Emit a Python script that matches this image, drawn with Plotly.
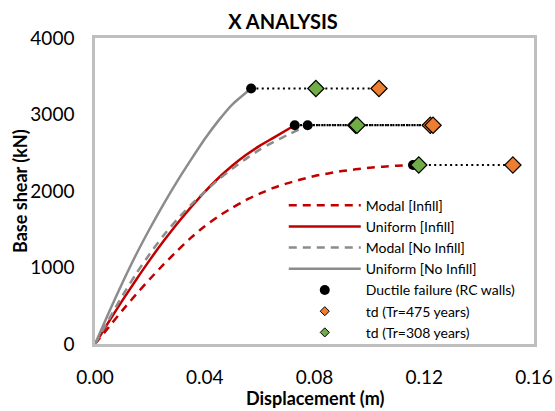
import plotly.graph_objects as go

# ---- data ----
modal_infill_d = [0, 0.005, 0.01, 0.015, 0.02, 0.025, 0.03, 0.035, 0.04, 0.045, 0.05, 0.055, 0.06,
                  0.065, 0.07, 0.075, 0.08, 0.085, 0.09, 0.095, 0.10, 0.105, 0.11, 0.1159]
modal_infill_v = [0, 220, 440, 650, 850, 1040, 1220, 1390, 1540, 1670, 1780, 1880, 1965,
                  2040, 2100, 2150, 2195, 2230, 2260, 2283, 2303, 2318, 2330, 2340]

uniform_infill_d = [0, 0.005, 0.01, 0.015, 0.02, 0.025, 0.03, 0.035, 0.04, 0.045, 0.05, 0.055,
                    0.06, 0.065, 0.0728]
uniform_infill_v = [0, 290, 570, 840, 1100, 1345, 1575, 1790, 1990, 2170, 2330, 2470,
                    2590, 2695, 2860]

modal_noinfill_d = [0, 0.005, 0.01, 0.015, 0.02, 0.025, 0.03, 0.035, 0.04, 0.045, 0.05, 0.055,
                    0.06, 0.065, 0.07, 0.0775]
modal_noinfill_v = [0, 320, 630, 920, 1180, 1420, 1630, 1820, 1990, 2150, 2290, 2420,
                    2540, 2640, 2730, 2860]

uniform_noinfill_d = [0, 0.005, 0.01, 0.015, 0.02, 0.025, 0.03, 0.035, 0.04, 0.045, 0.05, 0.0569]
uniform_noinfill_v = [0, 410, 800, 1170, 1510, 1830, 2130, 2410, 2680, 2920, 3130, 3340]

# ductile failure, td (Tr=308), td (Tr=475) per curve
keys = ["mi", "ui", "mn", "un"]
fail_d = {"mi": 0.1159, "ui": 0.0728, "mn": 0.0775, "un": 0.0569}
fail_v = {"mi": 2340, "ui": 2860, "mn": 2860, "un": 3340}
td308_d = {"mi": 0.118, "ui": 0.0950, "mn": 0.0955, "un": 0.0805}
td475_d = {"mi": 0.1523, "ui": 0.1222, "mn": 0.1232, "un": 0.1035}

x_ticks = [0.00, 0.04, 0.08, 0.12, 0.16]
y_ticks = [0, 1000, 2000, 3000, 4000]

RED = "#c00000"
GRAY = "#8c8c8c"
ORANGE = "#ed7d31"
GREEN = "#70ad47"
FONT = "Lato"

fig = go.Figure()

curves = [
    ("Modal [Infill]", modal_infill_d, modal_infill_v, RED, "dash"),
    ("Uniform [Infill]", uniform_infill_d, uniform_infill_v, RED, "solid"),
    ("Modal [No Infill]", modal_noinfill_d, modal_noinfill_v, GRAY, "dash"),
    ("Uniform [No Infill]", uniform_noinfill_d, uniform_noinfill_v, GRAY, "solid"),
]
for name, d, v, c, dash in curves:
    fig.add_trace(go.Scatter(x=d, y=v, mode="lines", name=name,
                             line=dict(color=c, width=2.5,
                                       dash=("8px,6px" if dash == "dash" else "solid"),
                                       shape="spline", smoothing=0.6),
                             showlegend=True))

# dotted connectors
for k in keys:
    fig.add_trace(go.Scatter(x=[fail_d[k], td308_d[k], td475_d[k]], y=[fail_v[k]] * 3,
                             mode="lines", line=dict(color="black", width=2.2, dash="2px,3.3px"),
                             showlegend=False, hoverinfo="skip"))

fig.add_trace(go.Scatter(x=[fail_d[k] for k in keys], y=[fail_v[k] for k in keys], mode="markers",
                         marker=dict(color="black", size=10), showlegend=False))
fig.add_trace(go.Scatter(x=[td475_d[k] for k in keys], y=[fail_v[k] for k in keys], mode="markers",
                         marker=dict(color=ORANGE, size=12.5, symbol="diamond",
                                     line=dict(color="black", width=1.2)),
                         showlegend=False))
fig.add_trace(go.Scatter(x=[td308_d[k] for k in keys], y=[fail_v[k] for k in keys], mode="markers",
                         marker=dict(color=GREEN, size=12.5, symbol="diamond",
                                     line=dict(color="black", width=1.2)),
                         showlegend=False))

# legend-only entries for markers
fig.add_trace(go.Scatter(x=[None], y=[None], mode="markers", name="Ductile failure (RC walls)",
                         marker=dict(color="black", size=10)))
fig.add_trace(go.Scatter(x=[None], y=[None], mode="markers", name="td (Tr=475 years)",
                         marker=dict(color=ORANGE, size=7, symbol="diamond",
                                     line=dict(color="black", width=1))))
fig.add_trace(go.Scatter(x=[None], y=[None], mode="markers", name="td (Tr=308 years)",
                         marker=dict(color=GREEN, size=7, symbol="diamond",
                                     line=dict(color="black", width=1))))

fig.update_layout(
    width=555, height=411,
    margin=dict(l=95, r=21, t=38, b=67),
    paper_bgcolor="white", plot_bgcolor="white",
    font=dict(family=FONT, color="black"),
    title=dict(text="<b>X ANALYSIS</b>", x=0.51, xref="container", xanchor="center",
               y=1 - 22 / 411, yanchor="middle", yref="container",
               font=dict(size=20, family=FONT, color="black")),
    showlegend=True,
    legend=dict(x=0.43, xanchor="left", y=-0.015, yanchor="bottom", bgcolor="rgba(255,255,255,0)",
                font=dict(size=14, family=FONT), tracegroupgap=0, itemwidth=72),
    annotations=[
        dict(text="<b>Displacement (m)</b>", xref="paper", yref="paper", x=0.5, y=-54 / 306,
             xanchor="center", yanchor="middle", showarrow=False,
             font=dict(size=18, family=FONT, color="black")),
        dict(text="<b>Base shear (kN)</b>", xref="paper", yref="paper", x=-75 / 439, y=0.5,
             xanchor="center", yanchor="middle", textangle=-90, showarrow=False,
             font=dict(size=18, family=FONT, color="black")),
    ],
)
fig.update_xaxes(range=[0, 0.16], tickvals=x_ticks, ticktext=[f"{t:.2f}" for t in x_ticks],
                 showgrid=False, zeroline=False, showline=True, mirror=True, linecolor="#bfbfbf",
                 linewidth=2.5, ticks="", tickfont=dict(size=19, family=FONT), ticklabelstandoff=14,
                 automargin=False)
fig.update_yaxes(range=[0, 4000], tickvals=y_ticks, ticktext=[str(t) for t in y_ticks],
                 showgrid=False, zeroline=False, showline=True, mirror=True, linecolor="#bfbfbf",
                 linewidth=2.5, ticks="", tickfont=dict(size=19, family=FONT), ticklabelstandoff=14,
                 automargin=False)

fig.write_html("out.html")
